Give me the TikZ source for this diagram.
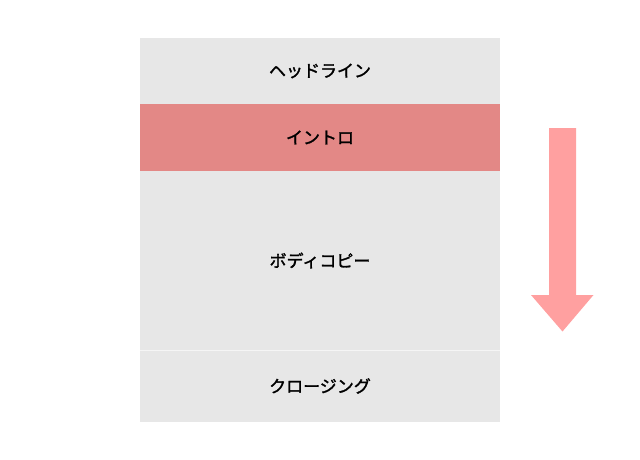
\documentclass[tikz,border=0pt]{standalone}
\usepackage{fontspec}
\usepackage{xcolor}
\newfontfamily\jpfont[FakeBold=1.6]{Noto Sans CJK JP}
\usetikzlibrary{positioning}
\definecolor{blockgray}{HTML}{E7E7E7}
\definecolor{introred}{HTML}{E38886}
\definecolor{arrowpink}{HTML}{FFA0A0}
\tikzset{
	block/.style = {fill=blockgray, minimum width=360pt, inner sep=0, outer sep=0, font=\jpfont\fontsize{17}{19}\selectfont},
	hot/.style = {block, fill=introred},
	flow/.style = {fill=arrowpink}
}

\begin{document}
\begin{tikzpicture}[x=1pt, y=-1pt]
	\useasboundingbox (0,0) rectangle (640,460);
	
	\node [block, minimum height=66pt] (headline) at (320,71) {ヘッドライン};
	\node [hot, minimum height=67pt] [below=0pt of headline] (intro) {イントロ};
	\node [block, minimum height=179pt] [below=0pt of intro] (body) {ボディコピー};
	\node [block, minimum height=72pt] [below=0pt of body] (closing) {クロージング};
	\draw [white!60!blockgray, line width=0.8pt] (body.south west) -- (body.south east);
	
	% reading direction
	\coordinate (top) at (562.5,128);
	\fill [flow] (top) ++(-13.5,0) -- ++(0,167) -- ++(-18,0) -- (562.5,331.5) -- (593.5,295) -- ++(-17.5,0) -- ++(0,-167) -- cycle;
\end{tikzpicture}
\end{document}
